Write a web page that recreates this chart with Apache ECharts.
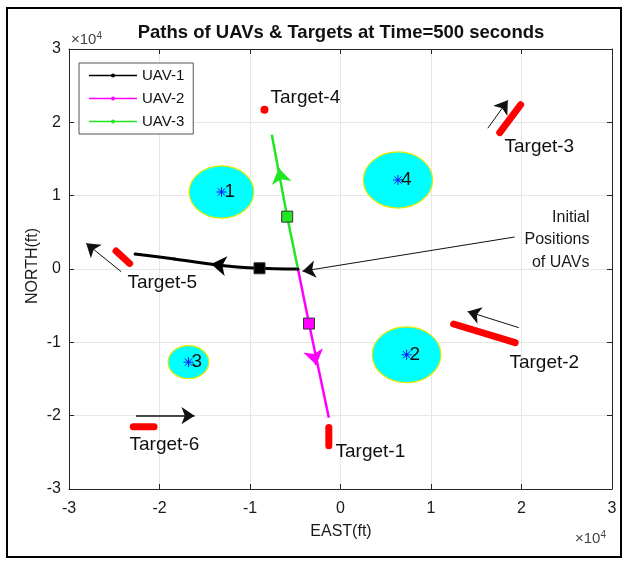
<!DOCTYPE html>
<html><head><meta charset="utf-8">
<script src="https://cdn.jsdelivr.net/npm/echarts@6/dist/echarts.min.js"></script>
<style>html,body{margin:0;padding:0;background:#fff}#c{width:628px;height:564px}</style>
</head><body><div id="c"></div>
<script>
// ---- data (feet) ----
const xTickValues = [-30000,-20000,-10000,0,10000,20000,30000];
const yTickValues = [-30000,-20000,-10000,0,10000,20000,30000];
const tickScale = 10000;

const zoneX = [-13150, 7300, -16800, 6350];
const zoneY = [10500, -11700, -12700, 12140];
const zoneR = [3570, 3800, 2250, 3830];
const zoneNames = ['1','2','3','4'];

const uav1X = [-4700, -8950, -13700, -18340, -22700];
const uav1Y = [0, 100, 550, 1360, 2050];
const uav2X = [-4700, -3480, -1290];
const uav2Y = [0, -7440, -20300];
const uav3X = [-4700, -5890, -7590];
const uav3Y = [0, 7140, 18300];

const uavNowX = [-8950, -3480, -5890];
const uavNowY = [100, -7440, 7140];

const pathArrowTailX = [-12800, -2930, -6585];
const pathArrowTailY = [420, -11620, 12260];
const pathArrowTipX = [-14290, -2680, -6820];
const pathArrowTipY = [680, -13100, 13740];

const target1X = [-1290, -1290], target1Y = [-21600, -24100];
const target2X = [12500, 19300], target2Y = [-7500, -10050];
const target3X = [17600, 19900], target3Y = [18600, 22400];
const target5X = [-24800, -23300], target5Y = [2450, 750];
const target6X = [-22900, -20600], target6Y = [-21500, -21500];
const target4X = [-8400], target4Y = [21700];

const arrowFromX = [19700, 16280, -24230, -22600, 19230];
const arrowFromY = [-8000, 19200, -370, -20000, 4360];
const arrowToX = [14050, 18490, -28100, -16130, -4200];
const arrowToY = [-5800, 23000, 3500, -20000, -300];
const arrowWidth = [1, 1, 1, 1.6, 1];

const labelText = ['Target-1','Target-2','Target-3','Target-4','Target-5','Target-6'];
const labelX = [-550, 18670, 18120, -7730, -23540, -23310];
const labelY = [-24970, -12820, 16640, 23330, -1910, -24010];

const noteText = 'Initial\nPositions\nof UAVs';
const noteX = [27510], noteY = [3960];

// ---- chart ----
const FF = 'Liberation Sans, Arial, sans-serif';
const zip = (xs, ys) => xs.map((x, i) => [x, ys[i]]);
const uavColors = ['#000000', '#ff00ff', '#22e622'];
const legendIcon = 'path://M0 6.2 L48 6.2 L48 7.8 L0 7.8 Z M26 7 A2 2 0 1 1 22 7 A2 2 0 1 1 26 7 Z';

const axisCommon = {
  type: 'value', min: -30000, max: 30000, interval: 10000,
  axisLine: { onZero: false, lineStyle: { color: '#262626', width: 1 } },
  axisTick: { inside: true, length: 5, lineStyle: { color: '#262626' } }
};

const targetLine = (xs, ys) => ({
  type: 'line', data: zip(xs, ys), symbol: 'none', silent: true, z: 4,
  lineStyle: { color: '#ff0000', width: 7, cap: 'round' }
});

const chart = echarts.init(document.getElementById('c'), null, { renderer: 'canvas' });
chart.setOption({
  animation: false,
  backgroundColor: '#ffffff',
  textStyle: { fontFamily: FF },
  grid: { left: 69, top: 49, width: 543, height: 440 },
  xAxis: [
    Object.assign({}, axisCommon, {
      position: 'bottom',
      axisLabel: { formatter: v => String(v / tickScale), fontSize: 16, color: '#1a1a1a', margin: 12, fontFamily: FF,
        customValues: xTickValues },
      splitLine: { show: true, lineStyle: { color: '#e6e6e6', width: 1 } }
    }),
    Object.assign({}, axisCommon, { position: 'top', axisLabel: { show: false }, splitLine: { show: false } })
  ],
  yAxis: [
    Object.assign({}, axisCommon, {
      position: 'left',
      axisLabel: { formatter: v => String(v / tickScale), fontSize: 16, color: '#1a1a1a', margin: 8, fontFamily: FF,
        customValues: yTickValues },
      splitLine: { show: true, lineStyle: { color: '#e6e6e6', width: 1 } }
    }),
    Object.assign({}, axisCommon, { position: 'right', axisLabel: { show: false }, splitLine: { show: false } })
  ],
  legend: {
    data: ['UAV-1', 'UAV-2', 'UAV-3'],
    orient: 'vertical', left: 79, top: 63,
    itemWidth: 48, itemHeight: 14, itemGap: 8,
    padding: [5, 9, 5, 10],
    icon: legendIcon,
    backgroundColor: '#ffffff', borderColor: '#555', borderWidth: 1, borderRadius: 0,
    textStyle: { fontSize: 15, color: '#111', fontFamily: FF }
  },
  series: [
    {
      type: 'custom', name: 'zones', z: 1, silent: true,
      data: zoneX.map((x, i) => [x, zoneY[i], zoneR[i], i]),
      renderItem(params, api) {
        const c = api.coord([api.value(0), api.value(1)]);
        const r = api.value(2);
        const sz = api.size([r, r]);
        const i = api.value(3);
        const a = 5, d = 3.6;
        const st = { stroke: '#1010ff', lineWidth: 1 };
        return {
          type: 'group', children: [
            { type: 'ellipse', shape: { cx: c[0], cy: c[1], rx: sz[0], ry: sz[1] },
              style: { fill: '#00ffff', stroke: '#e8e800', lineWidth: 1.2 } },
            { type: 'line', shape: { x1: c[0] - a, y1: c[1], x2: c[0] + a, y2: c[1] }, style: st },
            { type: 'line', shape: { x1: c[0], y1: c[1] - a, x2: c[0], y2: c[1] + a }, style: st },
            { type: 'line', shape: { x1: c[0] - d, y1: c[1] - d, x2: c[0] + d, y2: c[1] + d }, style: st },
            { type: 'line', shape: { x1: c[0] - d, y1: c[1] + d, x2: c[0] + d, y2: c[1] - d }, style: st },
            { type: 'text', style: { text: zoneNames[i], x: c[0] + 3, y: c[1], fill: '#111',
              font: '19px ' + FF, align: 'left', verticalAlign: 'middle' } }
          ]
        };
      }
    },
    { type: 'line', name: 'UAV-1', data: zip(uav1X, uav1Y), smooth: 0.3, symbol: 'circle', symbolSize: 3,
      color: uavColors[0], lineStyle: { color: uavColors[0], width: 3 }, z: 3 },
    { type: 'line', name: 'UAV-2', data: zip(uav2X, uav2Y), symbol: 'circle', symbolSize: 3, showSymbol: false,
      color: uavColors[1], lineStyle: { color: uavColors[1], width: 2.5 }, z: 3 },
    { type: 'line', name: 'UAV-3', data: zip(uav3X, uav3Y), symbol: 'circle', symbolSize: 3, showSymbol: false,
      color: uavColors[2], lineStyle: { color: uavColors[2], width: 2.5 }, z: 3 },
    {
      type: 'lines', coordinateSystem: 'cartesian2d', z: 5, silent: true,
      symbol: ['none', 'arrow'], symbolSize: 15,
      data: pathArrowTipX.map((x, i) => ({
        coords: [[pathArrowTailX[i], pathArrowTailY[i]], [x, pathArrowTipY[i]]],
        lineStyle: { color: uavColors[i], width: 2.5, opacity: 1 }
      }))
    },
    {
      type: 'scatter', name: 'now', z: 6, symbol: 'rect', symbolSize: 11, silent: true,
      data: uavNowX.map((x, i) => ({ value: [x, uavNowY[i]],
        itemStyle: { color: uavColors[i], borderColor: '#333', borderWidth: 1, opacity: 1 } }))
    },
    targetLine(target1X, target1Y),
    targetLine(target2X, target2Y),
    targetLine(target3X, target3Y),
    targetLine(target5X, target5Y),
    targetLine(target6X, target6Y),
    { type: 'scatter', name: 't4', data: zip(target4X, target4Y), symbol: 'circle', symbolSize: 8, z: 4,
      itemStyle: { color: '#ff0000', opacity: 1 }, silent: true },
    {
      type: 'lines', coordinateSystem: 'cartesian2d', z: 5, silent: true,
      symbol: ['none', 'arrow'], symbolSize: 13,
      data: arrowFromX.map((x, i) => ({
        coords: [[x, arrowFromY[i]], [arrowToX[i], arrowToY[i]]],
        lineStyle: { color: '#111', width: arrowWidth[i], opacity: 1 }
      }))
    },
    {
      type: 'scatter', name: 'labels', symbolSize: 0, z: 7, silent: true,
      itemStyle: { opacity: 1 },
      data: labelText.map((t, i) => ({ value: [labelX[i], labelY[i]], name: t })),
      label: { show: true, position: 'right', distance: 0, formatter: p => p.name, opacity: 1,
        fontSize: 19, color: '#111', fontFamily: FF, align: 'left', verticalAlign: 'middle' }
    },
    {
      type: 'scatter', name: 'note', symbolSize: 0, z: 7, silent: true,
      itemStyle: { opacity: 1 },
      data: zip(noteX, noteY),
      label: { show: true, position: 'left', distance: 0, formatter: noteText, opacity: 1,
        fontSize: 16, lineHeight: 22.5, color: '#1a1a1a', fontFamily: FF, align: 'right', verticalAlign: 'middle' }
    }
  ],
  graphic: [
    { type: 'rect', shape: { x: 7, y: 8, width: 614, height: 549 },
      style: { fill: 'none', stroke: '#000', lineWidth: 2 }, silent: true },
    { type: 'text', x: 341, y: 33, style: { text: 'Paths of UAVs & Targets at Time=500 seconds',
      font: 'bold 18.5px ' + FF, fill: '#111', align: 'center', verticalAlign: 'middle' } },
    { type: 'text', x: 71, y: 40, style: { text: '{a|×10}{b|4}', align: 'left', verticalAlign: 'middle',
      rich: { a: { fontSize: 15, fill: '#444', fontFamily: FF }, b: { fontSize: 10, fill: '#444', fontFamily: FF, verticalAlign: 'top', padding: [0, 0, 8, 0] } } } },
    { type: 'text', x: 575, y: 539, style: { text: '{a|×10}{b|4}', align: 'left', verticalAlign: 'middle',
      rich: { a: { fontSize: 15, fill: '#444', fontFamily: FF }, b: { fontSize: 10, fill: '#444', fontFamily: FF, verticalAlign: 'top', padding: [0, 0, 8, 0] } } } },
    { type: 'text', x: 33, y: 266, rotation: Math.PI / 2, style: { text: 'NORTH(ft)',
      font: '16px ' + FF, fill: '#1a1a1a', align: 'center', verticalAlign: 'middle' } },
    { type: 'text', x: 341, y: 532, style: { text: 'EAST(ft)',
      font: '16px ' + FF, fill: '#1a1a1a', align: 'center', verticalAlign: 'middle' } }
  ]
});
</script></body></html>
